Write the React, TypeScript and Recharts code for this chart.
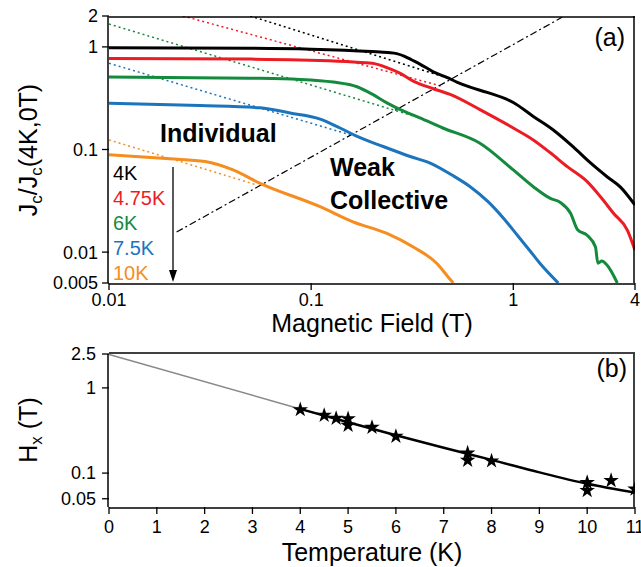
import React from "react"
import { ComposedChart, Line, Scatter, XAxis, YAxis, ZAxis } from "recharts"

const FONT = "'Liberation Sans', Arial, Helvetica, sans-serif"

const BLACK = "#000000"
const RED = "#ed1c24"
const GREEN = "#148a3d"
const BLUE = "#1c74bc"
const ORANGE = "#f58d1f"

// (a) Jc / Jc(4K,0T) against field
const field4K = [0.01, 0.05, 0.1, 0.2, 0.24, 0.265, 0.29, 0.315, 0.345, 0.402, 0.472, 0.529, 0.612, 0.743, 1.0, 1.256, 1.577, 1.98, 2.41, 2.92, 3.39, 4.0]
const jc4K = [0.98, 0.97, 0.95, 0.9, 0.88, 0.86, 0.81, 0.745, 0.68, 0.572, 0.501, 0.452, 0.405, 0.36, 0.287, 0.21, 0.155, 0.106, 0.074, 0.054, 0.043, 0.0287]

const field475K = [0.01, 0.05, 0.0883, 0.2, 0.237, 0.276, 0.32, 0.402, 0.487, 0.684, 1.0, 1.256, 1.525, 1.85, 2.32, 2.7, 3.13, 3.67, 4.0]
const jc475K = [0.77, 0.76, 0.746, 0.692, 0.628, 0.552, 0.464, 0.391, 0.344, 0.245, 0.162, 0.124, 0.0929, 0.068, 0.0486, 0.0346, 0.0239, 0.0163, 0.0104]

const field6K = [0.01, 0.05, 0.0883, 0.1287, 0.1686, 0.2016, 0.237, 0.276, 0.345, 0.448, 0.684, 1.0, 1.256, 1.525, 1.71, 1.92, 2.08, 2.32, 2.55, 2.62, 2.74, 2.92, 3.27]
const jc6K = [0.508, 0.495, 0.482, 0.454, 0.409, 0.344, 0.285, 0.245, 0.203, 0.162, 0.115, 0.0632, 0.0434, 0.0334, 0.0305, 0.0239, 0.0165, 0.0146, 0.0112, 0.0078, 0.0082, 0.0074, 0.005]

const field75K = [0.01, 0.0282, 0.0559, 0.0787, 0.1108, 0.139, 0.169, 0.227, 0.309, 0.388, 0.5, 0.612, 0.75, 0.892, 1.05, 1.2, 1.36, 1.67]
const jc75K = [0.282, 0.268, 0.255, 0.227, 0.198, 0.162, 0.134, 0.107, 0.0855, 0.0738, 0.056, 0.0434, 0.031, 0.0215, 0.0145, 0.0105, 0.0077, 0.005]

const field10K = [0.01, 0.02, 0.0299, 0.0411, 0.0559, 0.1108, 0.161, 0.237, 0.32, 0.42, 0.477, 0.505]
const jc10K = [0.0887, 0.0812, 0.0763, 0.0632, 0.0468, 0.0277, 0.0197, 0.0152, 0.0112, 0.0077, 0.0057, 0.005]

// dotted power-law fits (end points)
const fitField4K = [0.05, 0.47]
const fitJc4K = [2.0, 0.5]
const fitField475K = [0.0232, 0.45]
const fitJc475K = [2.0, 0.41]
const fitField6K = [0.01, 0.34]
const fitJc6K = [1.67, 0.205]
const fitField75K = [0.01, 0.16]
const fitJc75K = [0.692, 0.137]
const fitField10K = [0.01, 0.054]
const fitJc10K = [0.124, 0.0451]

// dash-dot crossover line
const crossField = [0.0216, 1.742]
const crossJc = [0.0157, 1.942]

const fieldTicks = [0.01, 0.02, 0.03, 0.04, 0.05, 0.06, 0.07, 0.08, 0.09, 0.1, 0.2, 0.3, 0.4, 0.5, 0.6, 0.7, 0.8, 0.9, 1, 2, 3, 4]
const fieldLabels = [0.01, 0.1, 1, 4]
const jcTicks = [0.005, 0.006, 0.007, 0.008, 0.009, 0.01, 0.02, 0.03, 0.04, 0.05, 0.06, 0.07, 0.08, 0.09, 0.1, 0.2, 0.3, 0.4, 0.5, 0.6, 0.7, 0.8, 0.9, 1, 2]
const jcLabels = [0.005, 0.01, 0.1, 1, 2]

// (b) crossover field Hx vs temperature
const tempStars = [4, 4.5, 4.75, 5, 5, 5.5, 6, 7.5, 7.5, 8, 10, 10, 10.5, 11]
const hxStars = [0.555, 0.476, 0.439, 0.435, 0.363, 0.344, 0.27, 0.172, 0.141, 0.139, 0.0775, 0.0624, 0.0818, 0.0648]
const tempExtrap = [0, 4]
const hxExtrap = [2.47, 0.566]
const tempFit = [4, 5, 6, 7, 8, 9, 10, 11]
const hxFit = [0.566, 0.395, 0.278, 0.198, 0.143, 0.102, 0.075, 0.059]

const tempTicks = [0, 0.5, 1, 1.5, 2, 2.5, 3, 3.5, 4, 4.5, 5, 5.5, 6, 6.5, 7, 7.5, 8, 8.5, 9, 9.5, 10, 10.5, 11]
const tempLabels = [0, 1, 2, 3, 4, 5, 6, 7, 8, 9, 10, 11]
const hxTicks = [0.05, 0.06, 0.07, 0.08, 0.09, 0.1, 0.2, 0.3, 0.4, 0.5, 0.6, 0.7, 0.8, 0.9, 1, 2, 2.5]
const hxLabels = [0.05, 0.1, 1, 2.5]

const pts = (bs: number[], js: number[]) => bs.map((b, i) => ({ b, j: js[i] }))
const tpts = (ts: number[], hs: number[]) => ts.map((t, i) => ({ t, hx: hs[i] }))

const curves = [
  { name: "4K", color: BLACK, data: pts(field4K, jc4K), fit: pts(fitField4K, fitJc4K) },
  { name: "4.75K", color: RED, data: pts(field475K, jc475K), fit: pts(fitField475K, fitJc475K) },
  { name: "6K", color: GREEN, data: pts(field6K, jc6K), fit: pts(fitField6K, fitJc6K) },
  { name: "7.5K", color: BLUE, data: pts(field75K, jc75K), fit: pts(fitField75K, fitJc75K) },
  { name: "10K", color: ORANGE, data: pts(field10K, jc10K), fit: pts(fitField10K, fitJc10K) },
]

const frame = { stroke: "#000", strokeWidth: 1.5 }
const tickLn = { stroke: "#000", strokeWidth: 1.3 }
const tickTxt = { fontSize: 18, fill: "#000", fontFamily: FONT }

// each side: one axis with short minor ticks + frame line, one with long ticks (+ labels).
// Axes are 1px thick so stacking them never shifts anything by more than a pixel.
function xPair(id: string, side: "top" | "bottom", key: string, domain: number[], log: boolean,
  minor: number[], major: number[], labels: boolean, margin: number, inward: boolean) {
  const common = {
    dataKey: key, type: "number" as const, scale: log ? ("log" as const) : ("linear" as const),
    domain, allowDataOverflow: true, orientation: side, interval: 0, mirror: inward, tickLine: tickLn, height: 1,
  }
  return [
    <XAxis key={id + "m"} xAxisId={id + "m"} {...common} ticks={minor} tickSize={4} tick={false} axisLine={frame} />,
    <XAxis key={id} xAxisId={id} {...common} ticks={major} tickSize={7} tickMargin={margin}
      tick={labels ? tickTxt : false} axisLine={false} />,
  ]
}

function yPair(id: string, side: "left" | "right", key: string, domain: number[],
  minor: number[], major: number[], labels: boolean, margin: number, inward: boolean) {
  const common = {
    dataKey: key, type: "number" as const, scale: "log" as const,
    domain, allowDataOverflow: true, orientation: side, interval: 0, mirror: inward, tickLine: tickLn, width: 1,
  }
  return [
    <YAxis key={id + "m"} yAxisId={id + "m"} {...common} ticks={minor} tickSize={4} tick={false} axisLine={frame} />,
    <YAxis key={id} yAxisId={id} {...common} ticks={major} tickSize={7} tickMargin={margin}
      tick={labels ? tickTxt : false} axisLine={false} />,
  ]
}

function PanelA() {
  return (
    <ComposedChart width={641} height={340} margin={{ top: 16, right: 6, bottom: 55, left: 107 }}>
      {xPair("bottom", "bottom", "b", [0.01, 4], true, fieldTicks, fieldLabels, true, 3, false)}
      {xPair("top", "top", "b", [0.01, 4], true, fieldTicks, fieldLabels, false, 0, true)}
      {yPair("left", "left", "j", [0.005, 2], jcTicks, jcLabels, true, 4, false)}
      {yPair("right", "right", "j", [0.005, 2], jcTicks, jcLabels, false, 0, true)}
      {curves.map((c) => (
        <Line key={c.name + "fit"} xAxisId="bottom" yAxisId="left" data={c.fit} dataKey="j" type="linear"
          stroke={c.color} strokeWidth={1.5} strokeDasharray="2 3" dot={false} isAnimationActive={false} />
      ))}
      <Line xAxisId="bottom" yAxisId="left" data={pts(crossField, crossJc)} dataKey="j" type="linear"
        stroke="#000" strokeWidth={1.2} strokeDasharray="7 3 2 3" dot={false} isAnimationActive={false} />
      {curves.map((c) => (
        <Line key={c.name} xAxisId="bottom" yAxisId="left" data={c.data} dataKey="j" type="monotone"
          stroke={c.color} strokeWidth={3} dot={false} isAnimationActive={false} />
      ))}
    </ComposedChart>
  )
}

function PanelB() {
  return (
    <ComposedChart width={641} height={227} margin={{ top: 12, right: 6, bottom: 58, left: 107 }}>
      {xPair("bottom", "bottom", "t", [0, 11], false, tempTicks, tempLabels, true, 6, false)}
      {xPair("top", "top", "t", [0, 11], false, tempTicks, tempLabels, false, 0, false)}
      {yPair("left", "left", "hx", [0.04, 2.5], hxTicks, hxLabels, true, 6, false)}
      {yPair("right", "right", "hx", [0.04, 2.5], hxTicks, hxLabels, false, 0, true)}
      <ZAxis range={[75, 75]} />
      <Line xAxisId="bottom" yAxisId="left" data={tpts(tempExtrap, hxExtrap)} dataKey="hx" type="linear"
        stroke="#888888" strokeWidth={1.5} dot={false} isAnimationActive={false} />
      <Line xAxisId="bottom" yAxisId="left" data={tpts(tempFit, hxFit)} dataKey="hx" type="monotone"
        stroke="#000" strokeWidth={2.5} dot={false} isAnimationActive={false} />
      <Scatter xAxisId="bottom" yAxisId="left" data={tpts(tempStars, hxStars)} dataKey="hx" shape="star"
        fill="#000" isAnimationActive={false} />
    </ComposedChart>
  )
}

export default function App() {
  return (
    <div style={{ position: "absolute", left: 0, top: 0, width: 641, height: 567, background: "#fff", fontFamily: FONT }}>
      <div style={{ position: "absolute", left: 0, top: 0 }}>
        <PanelA />
      </div>
      <div style={{ position: "absolute", left: 0, top: 340 }}>
        <PanelB />
      </div>
      <svg width={641} height={567} style={{ position: "absolute", left: 0, top: 0, pointerEvents: "none" }}
        fontFamily={FONT} fill="#000">
        <text x={625} y={46} textAnchor="end" fontSize={25}>(a)</text>
        <text x={627} y={377} textAnchor="end" fontSize={25}>(b)</text>
        <text x={160} y={142} fontSize={25} fontWeight="bold">Individual</text>
        <text x={330} y={176} fontSize={25} fontWeight="bold">Weak</text>
        <text x={330} y={209} fontSize={25} fontWeight="bold">Collective</text>
        {curves.map((c, i) => (
          <text key={c.name} x={113} y={180 + i * 25} fontSize={20} fill={c.color}>{c.name}</text>
        ))}
        <line x1={173} y1={167} x2={173} y2={272} stroke="#000" strokeWidth={1.3} />
        <polygon points="169,270 177,270 173,282" fill="#000" />
        <text x={372} y={332} textAnchor="middle" fontSize={25}>Magnetic Field (T)</text>
        <text x={372} y={561} textAnchor="middle" fontSize={25}>Temperature (K)</text>
        <text transform="translate(37,150) rotate(-90)" textAnchor="middle" fontSize={25}>
          J<tspan fontSize={17} dy={5}>c</tspan><tspan dy={-5}>/J</tspan><tspan fontSize={17} dy={5}>c</tspan><tspan dy={-5}>(4K,0T)</tspan>
        </text>
        <text transform="translate(37,430) rotate(-90)" textAnchor="middle" fontSize={25}>
          H<tspan fontSize={17} dy={5}>x</tspan><tspan dy={-5}> (T)</tspan>
        </text>
      </svg>
    </div>
  )
}
